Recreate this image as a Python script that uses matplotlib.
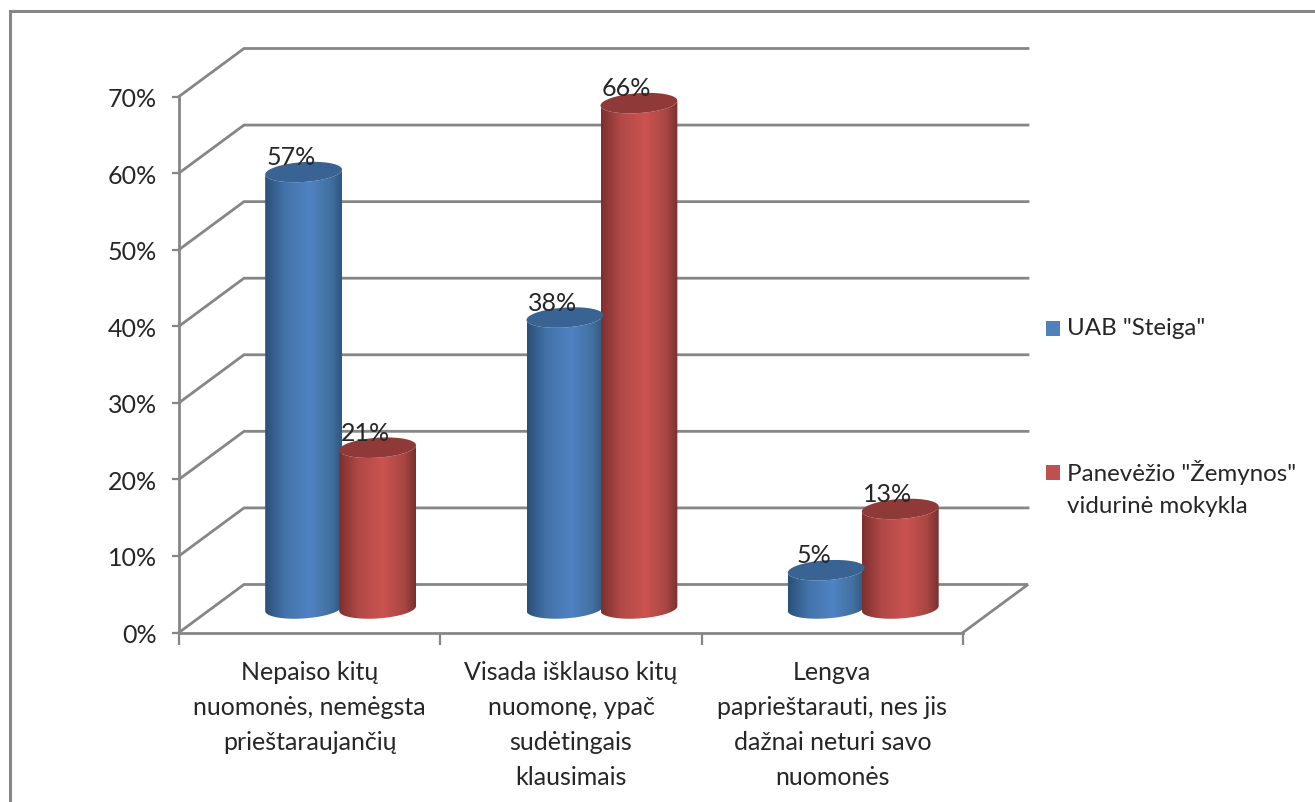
import numpy as np
import matplotlib
matplotlib.use('Agg')
import matplotlib.pyplot as plt
from matplotlib.colors import LinearSegmentedColormap
from matplotlib.lines import Line2D
from matplotlib.patches import Polygon, Rectangle

plt.rcParams['font.family'] = ['Lato', 'DejaVu Sans']

# Data
categories = ['Nepaiso kitų\nnuomonės, nemėgsta\nprieštaraujančių',
              'Visada išklauso kitų\nnuomonę, ypač\nsudėtingais\nklausimais',
              'Lengva\npaprieštarauti, nes jis\ndažnai neturi savo\nnuomonės']
steiga = [57, 38, 5]
zemyna = [21, 66, 13]
y_ticks = [0, 10, 20, 30, 40, 50, 60, 70]
series_names = ['UAB "Steiga"', 'Panevėžio "Žemynos"\nvidurinė mokykla']

W, H = 1315, 803
GREY = '#868686'
TEXT = '#262626'
FS = 18

fig = plt.figure(figsize=(W / 100, H / 100), dpi=100)
ax = fig.add_axes([179 / W, (H - 633.5) / H, 784 / W, 536 / H])
ax.set_xlim(0, 3)
ax.set_ylim(0, 70)

# depth of the fake 3D box, in axis units
depth_x = 0.2487
depth_y = 6.27

# cylinder shape
rx = 0.147
ry = 1.3
tilt = 0.32
shift = 0.1416


def ellipse(cx, cy, t):
    return cx + rx * np.cos(t), cy + ry * np.sin(t) + tilt * np.cos(t)


def cylinder(cx, value, cmap, top_color):
    base = depth_y / 2
    top = base + value
    t_front = np.linspace(np.pi, 2 * np.pi, 60)
    xb, yb = ellipse(cx, base, t_front)
    xt, yt = ellipse(cx, top, t_front[::-1])
    body = Polygon(np.column_stack([np.r_[xb, xt], np.r_[yb, yt]]),
                   closed=True, transform=ax.transData, fc='none', ec='none')
    ax.add_patch(body)
    body.set_clip_on(False)
    grad = np.linspace(0, 1, 200).reshape(1, -1)
    im = ax.imshow(grad, cmap=cmap, aspect='auto', interpolation='bilinear', zorder=3,
                   extent=(cx - rx, cx + rx, base - 3, top + 3))
    im.set_clip_box(fig.bbox)
    im.set_clip_path(body)
    t_all = np.linspace(0, 2 * np.pi, 120)
    xe, ye = ellipse(cx, top, t_all)
    ax.fill(xe, ye, color=top_color, lw=0, zorder=4, clip_on=False)
    ax.annotate(f'{value}%', (cx, top), xytext=(-9, 11), textcoords='offset points',
                ha='center', va='center', fontsize=FS, color=TEXT, zorder=5,
                annotation_clip=False)


blue_cmap = LinearSegmentedColormap.from_list(
    'blue3d', [(0, '#2b5079'), (0.25, '#4272a8'), (0.58, '#5083c4'), (0.85, '#42709f'), (1, '#2f5880')])
red_cmap = LinearSegmentedColormap.from_list(
    'red3d', [(0, '#7d302e'), (0.25, '#b04947'), (0.58, '#cb5350'), (0.85, '#a84644'), (1, '#7a302e')])

# walls and floor grid
for v in y_ticks:
    lw = 2.0
    if v > 0:
        ax.plot([0, depth_x, 3 + depth_x], [v, v + depth_y, v + depth_y],
                color=GREY, lw=lw, clip_on=False, zorder=1, solid_joinstyle='miter')
    else:
        ax.plot([0, depth_x, 3 + depth_x, 3], [0, depth_y, depth_y, 0],
                color=GREY, lw=lw, clip_on=False, zorder=1, solid_joinstyle='miter')

for i in range(3):
    center = i + 0.5 + depth_x / 2 - 0.006
    cylinder(center - shift, steiga[i], blue_cmap, '#396392')
    cylinder(center + shift, zemyna[i], red_cmap, '#8f3a38')

ax.set_xlim(0, 3)
ax.set_ylim(0, 70)
ax.patch.set_visible(False)

for side in ['top', 'right']:
    ax.spines[side].set_visible(False)
for side in ['left', 'bottom']:
    ax.spines[side].set_color(GREY)
    ax.spines[side].set_linewidth(2.0)

ax.set_yticks(y_ticks)
ax.set_yticklabels([f'{v}%' for v in y_ticks], fontsize=FS, color=TEXT)
ax.tick_params(axis='y', length=5, width=1.6, color=GREY, pad=11)
ax.set_xticks([0, 1, 2, 3])
ax.set_xticklabels([])
ax.tick_params(axis='x', which='major', length=8.5, width=1.6, color=GREY)
ax.set_xticks([0.5, 1.5, 2.5], minor=True)
ax.set_xticklabels(categories, minor=True, fontsize=FS, color=TEXT, linespacing=1.63)
ax.tick_params(axis='x', which='minor', length=0, pad=20)

# outer chart border runs off the right and bottom of the image
fig.add_artist(Line2D([9.5 / W, 9.5 / W, 1], [0, 1 - 11.5 / H, 1 - 11.5 / H],
                      color=GREY, lw=2.2, solid_joinstyle='miter'))

# legend
legend_colors = ['#4f81bd', '#c0504d']
legend_tops = [322, 466]
legend_text_y = [330, 472]
for name, c, top, ty in zip(series_names, legend_colors, legend_tops, legend_text_y):
    fig.add_artist(Rectangle((1046 / W, 1 - (top + 14.5) / H), 14 / W, 14.5 / H, fc=c, ec='none'))
    fig.text(1067 / W, 1 - (ty - 12) / H, name, fontsize=17.4, color=TEXT, ha='left', va='top',
             linespacing=1.62)

fig.savefig('out.png', dpi=100)
